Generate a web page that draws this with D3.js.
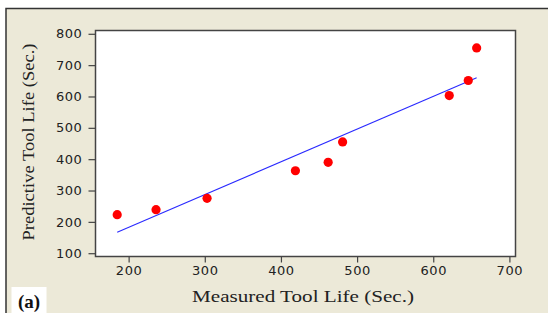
<!DOCTYPE html>
<html>
<head>
<meta charset="utf-8">
<script src="https://cdn.jsdelivr.net/npm/d3@7"></script>
<style>
  html, body { margin: 0; padding: 0; background: #fff; }
  svg { display: block; }
</style>
</head>
<body>
<script>
// measured vs predicted tool life (sec.)
const measured = [185, 236, 303, 419, 462, 481, 621, 646, 657]
const predicted = [223, 239, 275, 363, 390, 455, 603, 651, 755]

// fitted line end points
const fitX = [185, 657]
const fitY = [167, 660]

const xTicks = [200, 300, 400, 500, 600, 700]
const yTicks = [100, 200, 300, 400, 500, 600, 700, 800]

const w = 548
const h = 313

const plot = { left: 95.5, right: 515.5, top: 30.5, bottom: 256.5 }

const xScale = d3.scaleLinear()
  .domain([156.5, 708])
  .range([plot.left, plot.right])

const yScale = d3.scaleLinear()
  .domain([89.5, 810.5])
  .range([plot.bottom, plot.top])

const svg = d3.select("body")
  .append("svg")
  .attr("width", w)
  .attr("height", h)

// panel background + outer border
svg.append("rect")
  .attr("x", 6)
  .attr("y", 8.5)
  .attr("width", w)
  .attr("height", h)
  .attr("fill", "#ECE9D8")

svg.append("path")
  .attr("d", "M6,313 V8.5 H548")
  .attr("fill", "none")
  .attr("stroke", "#333")
  .attr("stroke-width", 1.5)

// plot area
svg.append("rect")
  .attr("x", plot.left)
  .attr("y", plot.top)
  .attr("width", plot.right - plot.left)
  .attr("height", plot.bottom - plot.top)
  .attr("fill", "#fff")
  .attr("stroke", "#444")
  .attr("stroke-width", 1.5)

const xAxis = d3.axisBottom(xScale)
  .tickValues(xTicks)
  .tickSize(6)
  .tickPadding(3)
  .tickFormat(d3.format("d"))

const gx = svg.append("g")
  .attr("transform", "translate(0," + plot.bottom + ")")
  .call(xAxis)

const yAxis = d3.axisLeft(yScale)
  .tickValues(yTicks)
  .tickSize(7)
  .tickPadding(6)
  .tickFormat(d3.format("d"))

const gy = svg.append("g")
  .attr("transform", "translate(" + plot.left + ",0)")
  .call(yAxis)

svg.selectAll(".domain").remove()
svg.selectAll(".tick line").attr("stroke", "#444").attr("stroke-width", 1.2)
svg.selectAll(".tick text")
  .attr("fill", "#222")
  .style("font-family", "'DejaVu Sans', sans-serif")
  .style("font-size", "13px")
  .style("letter-spacing", "0.6px")

// fitted line
svg.append("line")
  .attr("x1", xScale(fitX[0]))
  .attr("y1", yScale(fitY[0]))
  .attr("x2", xScale(fitX[1]))
  .attr("y2", yScale(fitY[1]))
  .attr("stroke", "#2a2aff")
  .attr("stroke-width", 1.1)

// points
svg.selectAll("circle.pt")
  .data(measured.map((m, i) => [m, predicted[i]]))
  .enter()
  .append("circle")
  .attr("class", "pt")
  .attr("cx", d => xScale(d[0]))
  .attr("cy", d => yScale(d[1]))
  .attr("r", 4.6)
  .attr("fill", "#ff0000")

// axis titles
svg.append("text")
  .attr("x", 303)
  .attr("y", 302)
  .attr("text-anchor", "middle")
  .attr("textLength", 222)
  .attr("lengthAdjust", "spacingAndGlyphs")
  .style("font-family", "'Liberation Serif', serif")
  .style("font-size", "17px")
  .attr("fill", "#222")
  .text("Measured Tool Life (Sec.)")

svg.append("text")
  .attr("transform", "translate(34,142) rotate(-90)")
  .attr("text-anchor", "middle")
  .attr("textLength", 197)
  .attr("lengthAdjust", "spacingAndGlyphs")
  .style("font-family", "'Liberation Serif', serif")
  .style("font-size", "17px")
  .attr("fill", "#222")
  .text("Predictive Tool Life (Sec.)")

// panel label
svg.append("rect")
  .attr("x", 11.5)
  .attr("y", 287)
  .attr("width", 35)
  .attr("height", 26)
  .attr("fill", "#fff")

svg.append("text")
  .attr("x", 29)
  .attr("y", 308)
  .attr("text-anchor", "middle")
  .style("font-family", "'Liberation Serif', serif")
  .style("font-size", "19px")
  .style("font-weight", "bold")
  .attr("fill", "#111")
  .text("(a)")
</script>
</body>
</html>
